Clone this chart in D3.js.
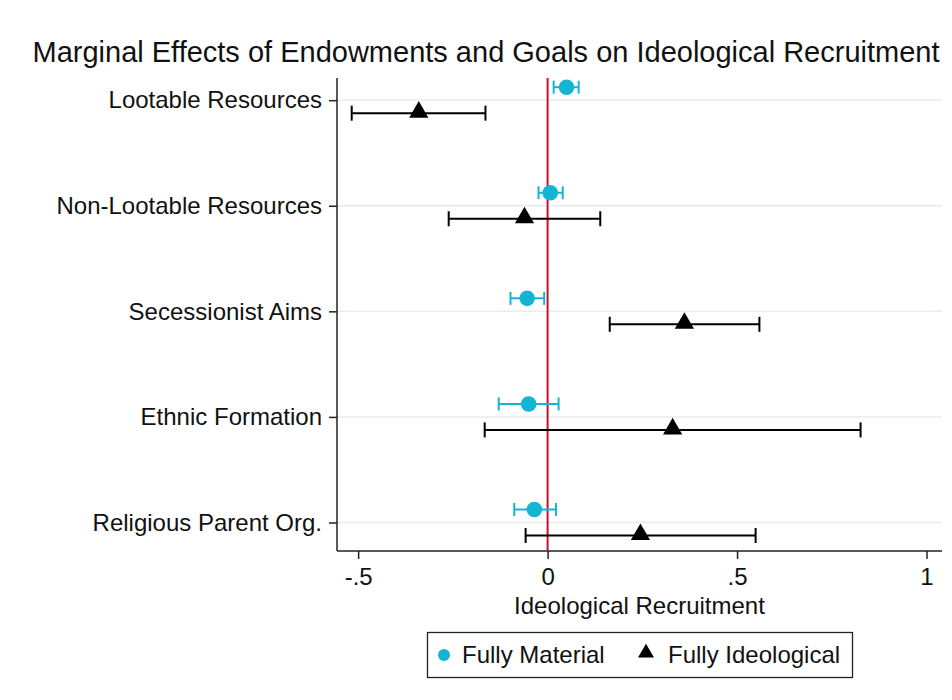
<!DOCTYPE html>
<html>
<head>
<meta charset="utf-8">
<script src="https://cdn.jsdelivr.net/npm/d3@7/dist/d3.min.js"></script>
<style>
  html, body { margin: 0; padding: 0; background: #fff; }
  svg { display: block; font-family: "Liberation Sans", Arial, sans-serif; }
</style>
</head>
<body>
<svg id="chart" width="952" height="700"></svg>
<script>
const categories = ["Lootable Resources", "Non-Lootable Resources", "Secessionist Aims", "Ethnic Formation", "Religious Parent Org."];
const seriesNames = ["Fully Material", "Fully Ideological"];
const materialEst = [0.050, 0.007, -0.054, -0.050, -0.035];
const materialLo  = [0.016, -0.024, -0.098, -0.129, -0.088];
const materialHi  = [0.082, 0.040, -0.009, 0.029, 0.022];
const ideoEst = [-0.340, -0.061, 0.361, 0.330, 0.245];
const ideoLo  = [-0.517, -0.261, 0.164, -0.166, -0.058];
const ideoHi  = [-0.164, 0.139, 0.559, 0.826, 0.549];
const xTicks = [-0.5, 0, 0.5, 1];
const xTickLabels = ["-.5", "0", ".5", "1"];

(function () {
const svg = d3.select("#chart");
const pL = 337, pR = 942, pT = 78, pB = 551;
const cyan = "#14b4d4", black = "#000", red = "#c8102e";
const FONT = "'Liberation Sans', Arial, sans-serif";

const x = d3.scaleLinear().domain([-0.5558, 1.0409]).range([pL, pR]);
const y = d3.scaleLinear().domain([0.79, 5.27]).range([pT, pB]);
const offM = -0.123, offI = 0.123;

// grid lines
svg.append("g").selectAll("line").data(categories).join("line")
  .attr("x1", pL).attr("x2", pR)
  .attr("y1", (d, i) => y(i + 1)).attr("y2", (d, i) => y(i + 1))
  .attr("stroke", "#e4eeef").attr("stroke-width", 1.5);

// y axis
const yAxis = d3.axisLeft(y).tickValues(categories.map((d, i) => i + 1))
  .tickFormat((d) => categories[d - 1]).tickSize(8).tickPadding(7);
const gy = svg.append("g").attr("transform", `translate(${pL},0)`).call(yAxis);
gy.select(".domain").attr("d", `M0,${pT}V${pB}`).attr("stroke", "#222").attr("stroke-width", 1.5);
gy.selectAll(".tick line").attr("stroke", "#222").attr("stroke-width", 1.5);
gy.selectAll(".tick text").attr("font-size", 24).attr("fill", "#111").attr("font-family", FONT);

// x axis
const xAxis = d3.axisBottom(x).tickValues(xTicks)
  .tickFormat((d, i) => xTickLabels[i]).tickSize(8).tickPadding(9);
const gx = svg.append("g").attr("transform", `translate(0,${pB})`).call(xAxis);
gx.select(".domain").attr("d", `M${pL},0H${pR}`).attr("stroke", "#222").attr("stroke-width", 1.5);
gx.selectAll(".tick line").attr("stroke", "#222").attr("stroke-width", 1.5);
gx.selectAll(".tick text").attr("font-size", 24).attr("fill", "#111").attr("font-family", FONT);

// zero reference line
svg.append("line").attr("x1", x(0)).attr("x2", x(0)).attr("y1", pT).attr("y2", pB)
  .attr("stroke", red).attr("stroke-width", 2);

function drawSeries(est, lo, hi, off, color, capH, markerType) {
  const g = svg.append("g");
  const rows = est.map((v, i) => ({ v, lo: lo[i], hi: hi[i], pos: i + 1 + off }));
  g.selectAll("line.ci").data(rows).join("line").attr("class", "ci")
    .attr("x1", d => x(d.lo)).attr("x2", d => x(d.hi))
    .attr("y1", d => y(d.pos)).attr("y2", d => y(d.pos))
    .attr("stroke", color).attr("stroke-width", 2);
  g.selectAll("line.capl").data(rows).join("line").attr("class", "capl")
    .attr("x1", d => x(d.lo)).attr("x2", d => x(d.lo))
    .attr("y1", d => y(d.pos) - capH).attr("y2", d => y(d.pos) + capH)
    .attr("stroke", color).attr("stroke-width", 2);
  g.selectAll("line.caph").data(rows).join("line").attr("class", "caph")
    .attr("x1", d => x(d.hi)).attr("x2", d => x(d.hi))
    .attr("y1", d => y(d.pos) - capH).attr("y2", d => y(d.pos) + capH)
    .attr("stroke", color).attr("stroke-width", 2);
  if (markerType === "circle") {
    g.selectAll("circle").data(rows).join("circle")
      .attr("cx", d => x(d.v)).attr("cy", d => y(d.pos)).attr("r", 7.8).attr("fill", color);
  } else {
    const tri = d3.symbol().type(d3.symbolTriangle).size(160);
    g.selectAll("path.m").data(rows).join("path").attr("class", "m")
      .attr("d", tri).attr("transform", d => `translate(${x(d.v)},${y(d.pos) - 1})`).attr("fill", color);
  }
}
drawSeries(materialEst, materialLo, materialHi, offM, cyan, 6.5, "circle");
drawSeries(ideoEst, ideoLo, ideoHi, offI, black, 7.5, "triangle");

// title
svg.append("text").attr("x", 486).attr("y", 62).attr("text-anchor", "middle")
  .attr("font-size", 29).attr("fill", "#111")
  .text("Marginal Effects of Endowments and Goals on Ideological Recruitment");

// x axis title
svg.append("text").attr("x", (pL + pR) / 2).attr("y", 614).attr("text-anchor", "middle")
  .attr("font-size", 24).attr("fill", "#111").text("Ideological Recruitment");

// legend
const lg = svg.append("g");
lg.append("rect").attr("x", 427.5).attr("y", 632.5).attr("width", 425).attr("height", 45)
  .attr("fill", "#fff").attr("stroke", "#222").attr("stroke-width", 1.3);
lg.append("circle").attr("cx", 444).attr("cy", 655).attr("r", 6).attr("fill", cyan);
lg.append("text").attr("x", 462).attr("y", 663).attr("font-size", 24).attr("fill", "#111").text(seriesNames[0]);
lg.append("path").attr("d", d3.symbol().type(d3.symbolTriangle).size(110))
  .attr("transform", "translate(646,653)").attr("fill", black);
lg.append("text").attr("x", 668).attr("y", 663).attr("font-size", 24).attr("fill", "#111").text(seriesNames[1]);
})();
</script>
</body>
</html>
